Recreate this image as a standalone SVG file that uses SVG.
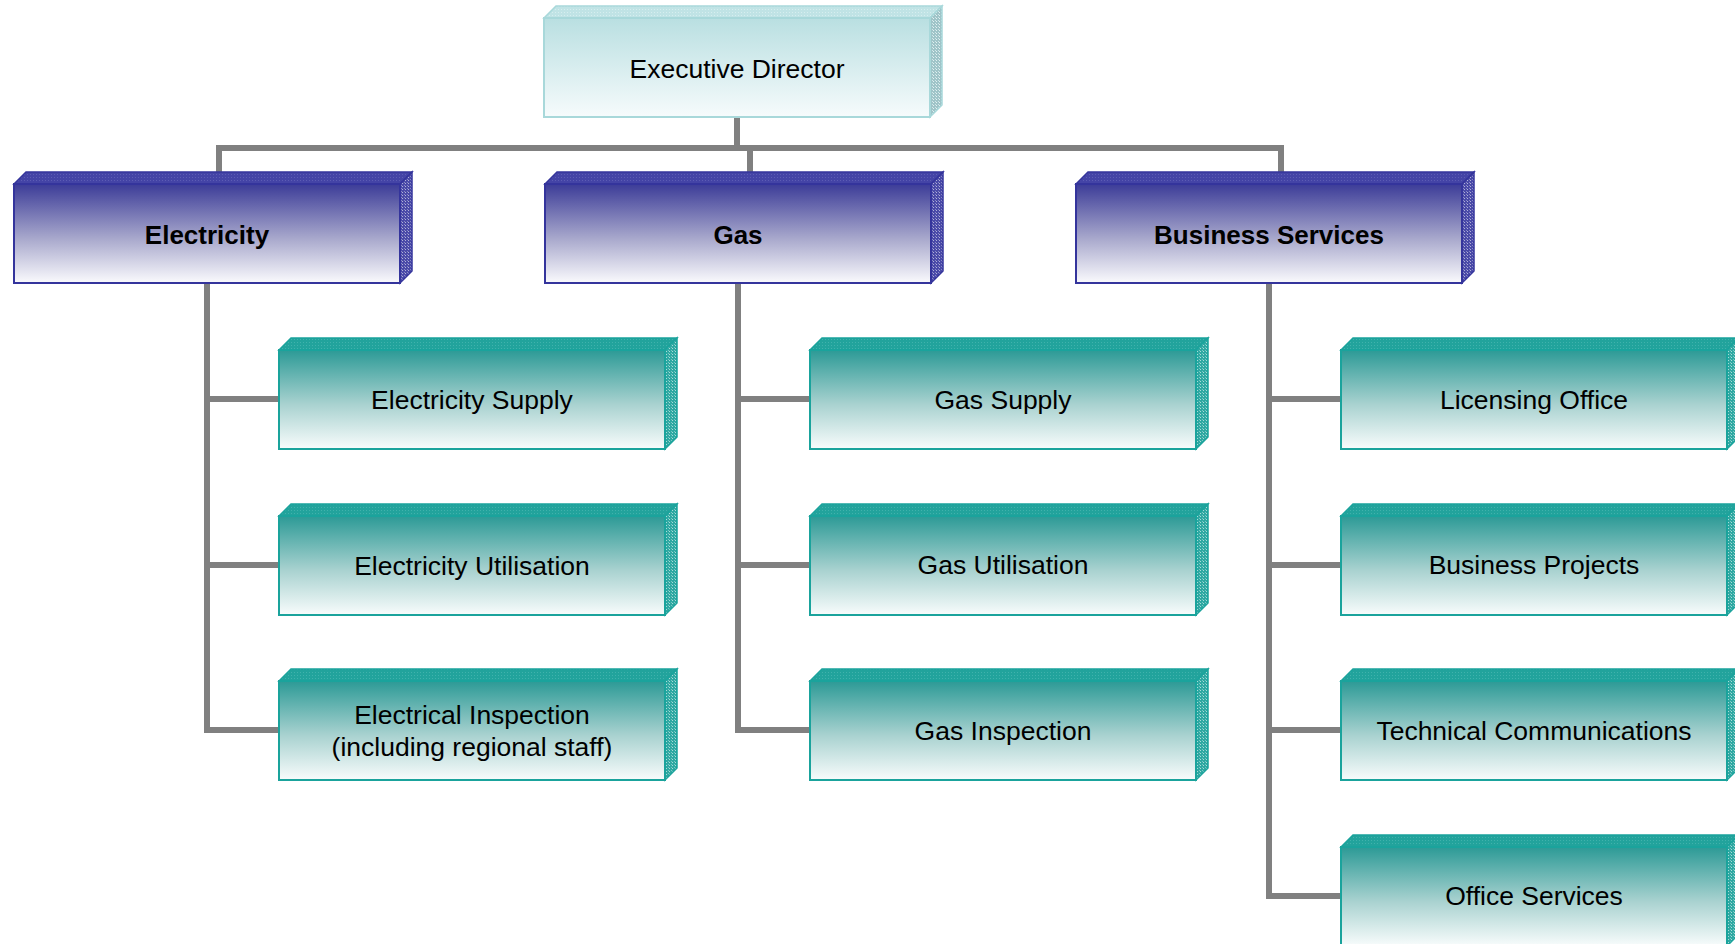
<svg xmlns="http://www.w3.org/2000/svg" width="1735" height="944" viewBox="0 0 1735 944">
<defs>
<style>
text{font-family:"Liberation Sans",Arial,sans-serif;font-size:26.5px;fill:#000;text-anchor:middle;dominant-baseline:central}
.b{font-weight:bold;font-size:26px}
.conn{fill:none;stroke:#808080;stroke-width:6;stroke-linejoin:miter}
.exf{fill:url(#gExec);stroke:#a8d8da;stroke-width:2}
.ext{fill:url(#pExecT);stroke:#a8d8da;stroke-width:1.5}
.exs{fill:url(#pExecS);stroke:#a8d8da;stroke-width:1.5}
.blf{fill:url(#gBlue);stroke:#34349c;stroke-width:2}
.blt{fill:url(#pBlueT);stroke:#34349c;stroke-width:1.5}
.bls{fill:url(#pBlueS);stroke:#34349c;stroke-width:1.5}
.tlf{fill:url(#gTeal);stroke:#1aa39c;stroke-width:2}
.tlt{fill:url(#pTealT);stroke:#1aa39c;stroke-width:1.5}
.tls{fill:url(#pTealS);stroke:#1aa39c;stroke-width:1.5}
</style>
<linearGradient id="gExec" x1="0" y1="0" x2="0" y2="1">
<stop offset="0" stop-color="#b9dfe1"/><stop offset="1" stop-color="#f6fbfc"/>
</linearGradient>
<linearGradient id="gBlue" x1="0" y1="0" x2="0" y2="1">
<stop offset="0" stop-color="#3c3c98"/><stop offset="0.55" stop-color="#a8a8cc"/><stop offset="1" stop-color="#fafafd"/>
</linearGradient>
<linearGradient id="gTeal" x1="0" y1="0" x2="0" y2="1">
<stop offset="0" stop-color="#2c9a96"/><stop offset="0.55" stop-color="#a9d2d0"/><stop offset="1" stop-color="#f8fcfc"/>
</linearGradient>
<pattern id="pExecT" width="3" height="3" patternUnits="userSpaceOnUse">
<rect width="3" height="3" fill="#c0e3e5"/><rect width="1" height="1" fill="#d6eeef"/>
</pattern>
<pattern id="pExecS" width="3" height="3" patternUnits="userSpaceOnUse">
<rect width="3" height="3" fill="#9fc4c8"/><rect width="1" height="1" fill="#e2f0f1"/><rect x="2" y="2" width="1" height="1" fill="#d0e6e8"/>
</pattern>
<pattern id="pBlueT" width="3" height="3" patternUnits="userSpaceOnUse">
<rect width="3" height="3" fill="#4444a6"/><rect width="1" height="1" fill="#5c5cb4"/>
</pattern>
<pattern id="pBlueS" width="3" height="3" patternUnits="userSpaceOnUse">
<rect width="3" height="3" fill="#4a4aa8"/><rect width="1" height="1" fill="#b0b0d8"/><rect x="2" y="2" width="1" height="1" fill="#8888c4"/>
</pattern>
<pattern id="pTealT" width="3" height="3" patternUnits="userSpaceOnUse">
<rect width="3" height="3" fill="#22a39c"/><rect width="1" height="1" fill="#40b2ac"/>
</pattern>
<pattern id="pTealS" width="3" height="3" patternUnits="userSpaceOnUse">
<rect width="3" height="3" fill="#2ea8a2"/><rect width="1" height="1" fill="#a8dcd8"/><rect x="2" y="2" width="1" height="1" fill="#78c6c2"/>
</pattern>
</defs>
<rect width="1735" height="944" fill="#fff"/>

<g id="connectors">
<path class="conn" d="M737 117 V148 M219 178 V148 H1281 V178 M750 148 V178"/>
<path class="conn" d="M207 283 V730 H279 M207 399 H279 M207 565 H279"/>
<path class="conn" d="M738 283 V730 H810 M738 399 H810 M738 565 H810"/>
<path class="conn" d="M1269 283 V896 H1341 M1269 399 H1341 M1269 565 H1341 M1269 730 H1341"/>
</g>

<g id="exec">
<polygon class="ext" points="544,18 556,6 942,6 930,18"/>
<polygon class="exs" points="930,18 942,6 942,105 930,117"/>
<rect class="exf" x="544" y="18" width="386" height="99"/>
<text x="737" y="69">Executive Director</text>
</g>

<g id="electricity">
<polygon class="blt" points="14,184 26,172 412,172 400,184"/>
<polygon class="bls" points="400,184 412,172 412,271 400,283"/>
<rect class="blf" x="14" y="184" width="386" height="99"/>
<text class="b" x="207" y="235">Electricity</text>
</g>

<g id="gas">
<polygon class="blt" points="545,184 557,172 943,172 931,184"/>
<polygon class="bls" points="931,184 943,172 943,271 931,283"/>
<rect class="blf" x="545" y="184" width="386" height="99"/>
<text class="b" x="738" y="235">Gas</text>
</g>

<g id="business">
<polygon class="blt" points="1076,184 1088,172 1474,172 1462,184"/>
<polygon class="bls" points="1462,184 1474,172 1474,271 1462,283"/>
<rect class="blf" x="1076" y="184" width="386" height="99"/>
<text class="b" x="1269" y="235">Business Services</text>
</g>

<g id="elec-supply">
<polygon class="tlt" points="279,350 291,338 677,338 665,350"/>
<polygon class="tls" points="665,350 677,338 677,437 665,449"/>
<rect class="tlf" x="279" y="350" width="386" height="99"/>
<text x="472" y="400">Electricity Supply</text>
</g>
<g id="elec-util">
<polygon class="tlt" points="279,516 291,504 677,504 665,516"/>
<polygon class="tls" points="665,516 677,504 677,603 665,615"/>
<rect class="tlf" x="279" y="516" width="386" height="99"/>
<text x="472" y="566">Electricity Utilisation</text>
</g>
<g id="elec-insp">
<polygon class="tlt" points="279,681 291,669 677,669 665,681"/>
<polygon class="tls" points="665,681 677,669 677,768 665,780"/>
<rect class="tlf" x="279" y="681" width="386" height="99"/>
<text x="472" y="715">Electrical Inspection</text>
<text x="472" y="747">(including regional staff)</text>
</g>

<g id="gas-supply">
<polygon class="tlt" points="810,350 822,338 1208,338 1196,350"/>
<polygon class="tls" points="1196,350 1208,338 1208,437 1196,449"/>
<rect class="tlf" x="810" y="350" width="386" height="99"/>
<text x="1003" y="400">Gas Supply</text>
</g>
<g id="gas-util">
<polygon class="tlt" points="810,516 822,504 1208,504 1196,516"/>
<polygon class="tls" points="1196,516 1208,504 1208,603 1196,615"/>
<rect class="tlf" x="810" y="516" width="386" height="99"/>
<text x="1003" y="565">Gas Utilisation</text>
</g>
<g id="gas-insp">
<polygon class="tlt" points="810,681 822,669 1208,669 1196,681"/>
<polygon class="tls" points="1196,681 1208,669 1208,768 1196,780"/>
<rect class="tlf" x="810" y="681" width="386" height="99"/>
<text x="1003" y="731">Gas Inspection</text>
</g>

<g id="licensing">
<polygon class="tlt" points="1341,350 1353,338 1739,338 1727,350"/>
<polygon class="tls" points="1727,350 1739,338 1739,437 1727,449"/>
<rect class="tlf" x="1341" y="350" width="386" height="99"/>
<text x="1534" y="400">Licensing Office</text>
</g>
<g id="bus-projects">
<polygon class="tlt" points="1341,516 1353,504 1739,504 1727,516"/>
<polygon class="tls" points="1727,516 1739,504 1739,603 1727,615"/>
<rect class="tlf" x="1341" y="516" width="386" height="99"/>
<text x="1534" y="565">Business Projects</text>
</g>
<g id="tech-comms">
<polygon class="tlt" points="1341,681 1353,669 1739,669 1727,681"/>
<polygon class="tls" points="1727,681 1739,669 1739,768 1727,780"/>
<rect class="tlf" x="1341" y="681" width="386" height="99"/>
<text x="1534" y="731">Technical Communications</text>
</g>
<g id="office-services">
<polygon class="tlt" points="1341,847 1353,835 1739,835 1727,847"/>
<polygon class="tls" points="1727,847 1739,835 1739,934 1727,946"/>
<rect class="tlf" x="1341" y="847" width="386" height="99"/>
<text x="1534" y="896">Office Services</text>
</g>
</svg>
